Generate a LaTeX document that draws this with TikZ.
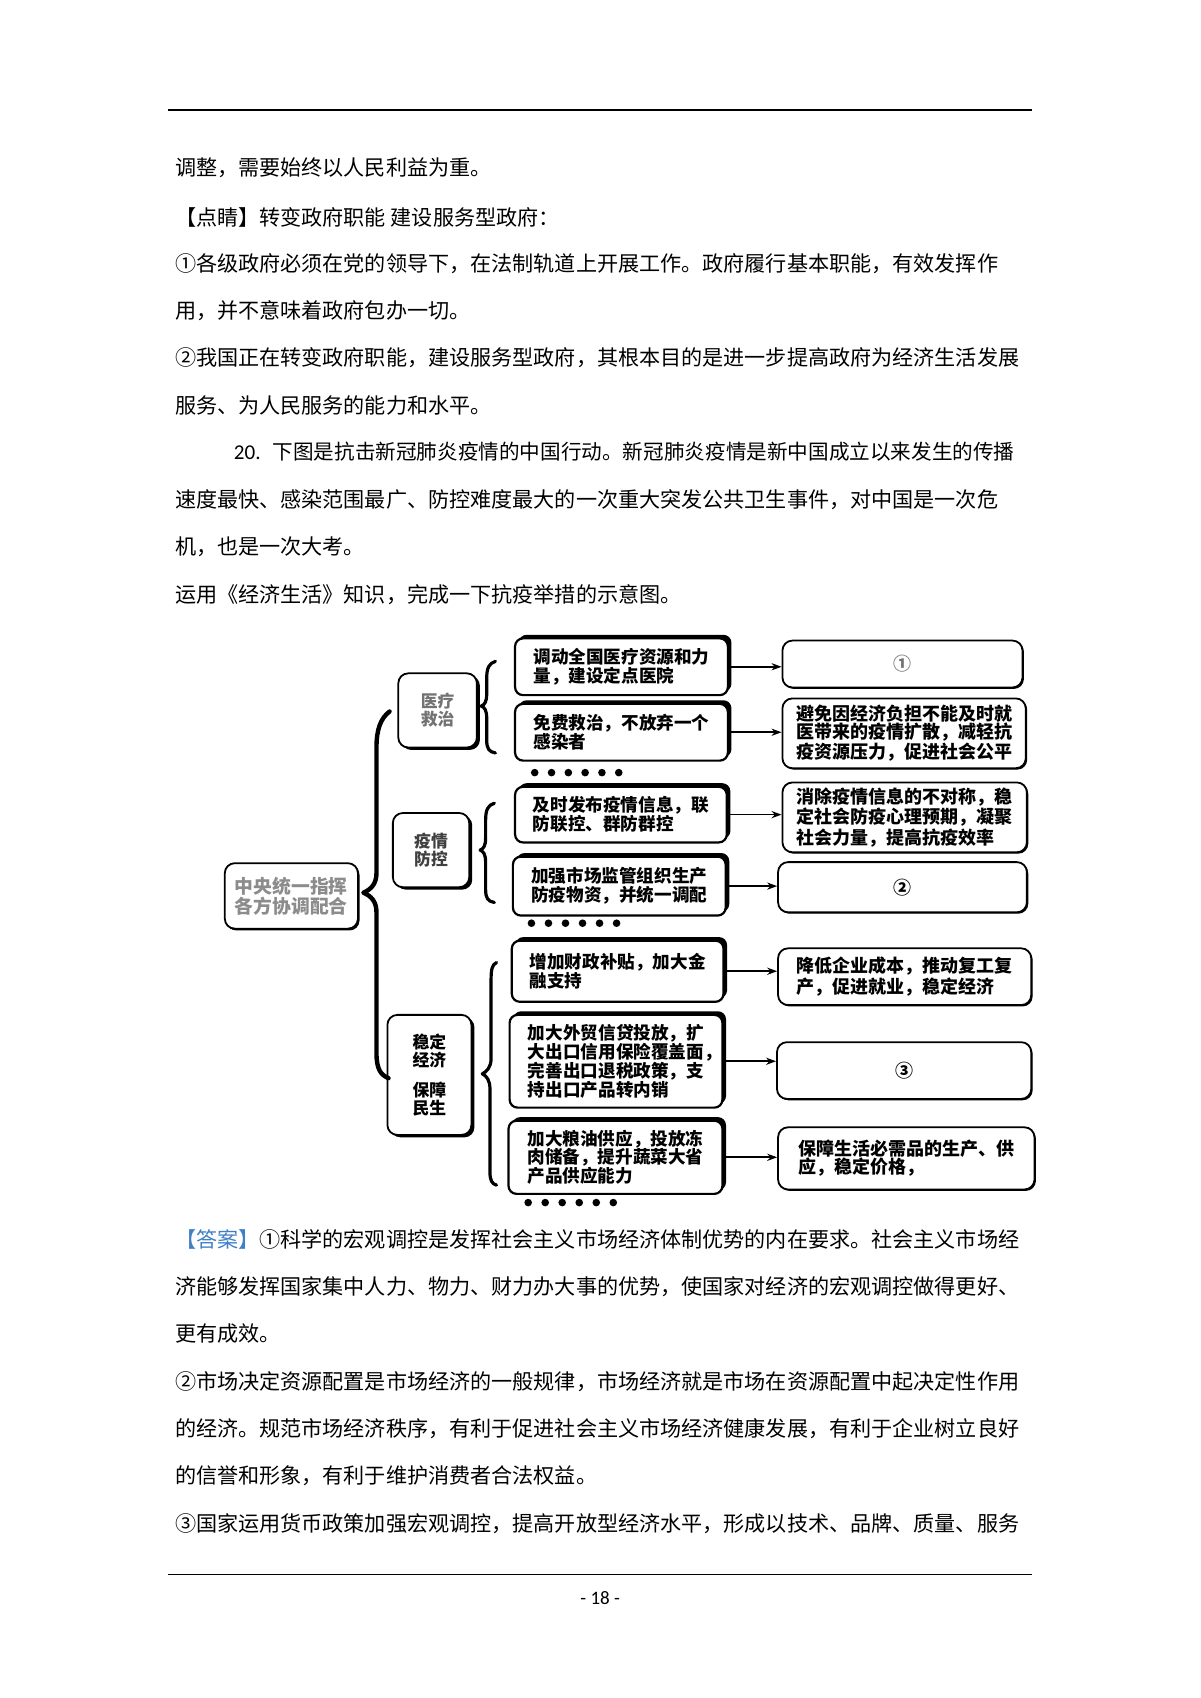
\documentclass[tikz,border=0pt]{standalone}
\usepackage{fontspec}
\setmainfont{Noto Sans CJK SC}
\newfontfamily\latinf{Carlito}
\usetikzlibrary{arrows.meta,shadows}
\newcommand\pu{0.54545pt}
\definecolor{ansblue}{HTML}{3F7FC6}
\tikzset{
  bodytext/.style={anchor=west, inner sep=0pt, font=\fontsize{10.55pt}{12pt}\selectfont},
  sz/.style 2 args={minimum width=#1*\pu, minimum height=#2*\pu},
  lbox/.style={draw=black, line width=1.1pt, fill=white, rounded corners=4pt, align=left,
    text width=88pt, inner sep=0pt, font=\fontsize{8.8pt}{9.4pt}\selectfont\bfseries,
    general shadow={fill=black, shadow xshift=1.8pt, shadow yshift=1.8pt}},
  rframe/.style={draw=black, line width=0.9pt, fill=white, rounded corners=5pt,
    inner sep=0pt, font=\fontsize{9pt}{9.1pt}\selectfont\bfseries,
    general shadow={fill=black, shadow xshift=0.7pt, shadow yshift=-0.7pt}},
  rbox/.style={rframe, align=left, text width=108pt},
  rcirc/.style={rframe, align=center},
  catbox/.style={draw=black, line width=0.9pt, fill=white, rounded corners=5pt, align=center,
    inner sep=0pt, font=\fontsize{8.4pt}{9pt}\selectfont\bfseries,
    general shadow={fill=black, shadow xshift=1.5pt, shadow yshift=-1.2pt}},
  rootbox/.style={draw=black, line width=0.9pt, fill=white, rounded corners=5pt, align=center,
    inner sep=0pt, font=\fontsize{9.4pt}{10pt}\selectfont\bfseries, text=black!45,
    general shadow={fill=black, shadow xshift=0.8pt, shadow yshift=-0.9pt}},
  arr/.style={line width=0.8pt, -{Stealth[length=5pt,width=3.6pt]}},
  bigbrace/.style={line width=2.2pt, line cap=round, line join=round},
  smallbrace/.style={line width=1.6pt, line cap=round, line join=round},
}
\begin{document}
\begin{tikzpicture}[x=0.54545pt, y=-0.54545pt]
\fill[white] (0,0) rectangle (1100,1556);
\useasboundingbox (0,0) rectangle (1100,1556);

% rules
\coordinate (rtl) at (154,101); \coordinate (rtr) at (946,101);
\draw[line width=0.9pt] (rtl) -- (rtr);
\coordinate (rbl) at (154,1442.5); \coordinate (rbr) at (946,1442.5);
\draw[line width=0.5pt] (rbl) -- (rbr);
\node[inner sep=0pt, font=\latinf\fontsize{9.5pt}{11pt}\selectfont] (pg) at (550,1464.5) {- 18 -};

% body text top
\node[bodytext] (t1) at (160,154) {调整，需要始终以人民利益为重。};
\node[bodytext] (t2) at (160,199) {【点睛】转变政府职能 建设服务型政府：};
\node[bodytext] (t3) at (160,241.5) {①各级政府必须在党的领导下，在法制轨道上开展工作。政府履行基本职能，有效发挥作};
\node[bodytext] (t4) at (160,285) {用，并不意味着政府包办一切。};
\node[bodytext] (t5) at (160,328) {②我国正在转变政府职能，建设服务型政府，其根本目的是进一步提高政府为经济生活发展};
\node[bodytext] (t6) at (160,371.5) {服务、为人民服务的能力和水平。};
\node[bodytext] (t7) at (214,414) {{\latinf 20.\hspace{6pt}}{\fontsize{10.3pt}{12pt}\selectfont 下图是抗击新冠肺炎疫情的中国行动。新冠肺炎疫情是新中国成立以来发生的传播}};
\node[bodytext] (t8) at (160,458) {速度最快、感染范围最广、防控难度最大的一次重大突发公共卫生事件，对中国是一次危};
\node[bodytext] (t9) at (160,501) {机，也是一次大考。};
\node[bodytext] (t10) at (160,544.5) {运用《经济生活》知识，完成一下抗疫举措的示意图。};

% body text bottom
\node[bodytext] (b1) at (160,1135.5) {\textcolor{ansblue}{【答案】}①科学的宏观调控是发挥社会主义市场经济体制优势的内在要求。社会主义市场经};
\node[bodytext] (b2) at (160,1179) {济能够发挥国家集中人力、物力、财力办大事的优势，使国家对经济的宏观调控做得更好、};
\node[bodytext] (b3) at (160,1222) {更有成效。};
\node[bodytext] (b4) at (160,1266) {②市场决定资源配置是市场经济的一般规律，市场经济就是市场在资源配置中起决定性作用};
\node[bodytext] (b5) at (160,1309.5) {的经济。规范市场经济秩序，有利于促进社会主义市场经济健康发展，有利于企业树立良好};
\node[bodytext] (b6) at (160,1352) {的信誉和形象，有利于维护消费者合法权益。};
\node[bodytext] (b7) at (160,1396) {③国家运用货币政策加强宏观调控，提高开放型经济水平，形成以技术、品牌、质量、服务};

% ---------- diagram ----------
% root
\node[rootbox, sz={122}{60}] (root) at (267,821) {中央统一指挥\\各方协调配合};

% category boxes
\node[catbox, sz={72}{68}, text=black!55] (cat1) at (401,651) {医疗\\救治};
\node[catbox, sz={70}{68}, text=black!75] (cat2) at (395,779) {疫情\\防控};
\node[catbox, sz={77}{110}, text=black] (cat3) at (393.5,985) {稳定\\经济\\[6pt]保障\\民生};

% big brace
\draw[bigbrace] (357,652) .. controls (349,658) and (345,668) .. (345,685) -- (345,800)
  .. controls (345,810) and (340,815) .. (333,818)
  .. controls (340,821) and (345,826) .. (345,836) -- (345,965)
  .. controls (345,980) and (349,985) .. (356,988);

% small braces
\draw[smallbrace] (454,606) .. controls (448,608) and (446,612) .. (446,622) -- (446,636)
  .. controls (446,643) and (444,646) .. (441,647)
  .. controls (444,648) and (446,651) .. (446,658) -- (446,678)
  .. controls (446,686) and (448,689) .. (454,690);
\draw[smallbrace] (453,736) .. controls (447,738) and (445,742) .. (445,752) -- (445,768)
  .. controls (445,775) and (443,778) .. (440,779)
  .. controls (443,780) and (445,783) .. (445,790) -- (445,815)
  .. controls (445,823) and (447,826) .. (453,827);
\draw[smallbrace] (455,882) .. controls (451,884) and (450,888) .. (450,898) -- (450,970)
  .. controls (450,978) and (446,982) .. (442,984)
  .. controls (446,986) and (449,990) .. (449,998) -- (449,1074)
  .. controls (449,1082) and (451,1085) .. (455,1086);

% left boxes
\node[lbox, sz={195}{52}] (a1) at (569.5,611) {调动全国医疗资源和力\\量，建设定点医院};
\node[lbox, sz={195}{52}] (a2) at (569.5,671) {免费救治，不放弃一个\\感染者};
\node[lbox, sz={194}{51}] (b1x) at (569,746.5) {及时发布疫情信息，联\\防联控、群防群控};
\node[lbox, sz={195}{54}] (b2x) at (567.5,812) {加强市场监管组织生产\\防疫物资，并统一调配};
\node[lbox, sz={194}{56}] (c1) at (566,890) {增加财政补贴，加大金\\融支持};
\node[lbox, sz={195}{85}] (c2) at (564.5,972.5) {加大外贸信贷投放，扩\\大出口信用保险覆盖面\rlap{，}\\完善出口退税政策，支\\持出口产品转内销};
\node[lbox, sz={196}{67}] (c3) at (564,1060.5) {加大粮油供应，投放冻\\肉储备，提升蔬菜大省\\产品供应能力};

% dots
\foreach \i in {0,...,5} {
  \fill (490+15.4*\i,708) circle[radius=1.9pt];
  \fill (487+15.6*\i,846) circle[radius=1.9pt];
  \fill (484+15.6*\i,1102) circle[radius=1.9pt];
}

% right boxes
\node[rcirc, sz={220}{43}, text=black!55] (r1) at (827,608.5) {①};
\node[rbox, sz={223}{64}] (r2) at (828.5,672) {避免因经济负担不能及时就\\医带来的疫情扩散，减轻抗\\疫资源压力，促进社会公平};
\node[rbox, sz={224}{64}] (r3) at (829,749) {消除疫情信息的不对称，稳\\定社会防疫心理预期，凝聚\\社会力量，提高抗疫效率};
\node[rcirc, sz={228}{46}] (r4) at (827,813) {②};
\node[rbox, sz={232}{52}] (r5) at (829,895) {降低企业成本，推动复工复\\产，促进就业，稳定经济};
\node[rcirc, sz={233}{52}] (r6) at (828.5,981) {③};
\node[rbox, sz={235}{57}] (r7) at (830.5,1061.5) {保障生活必需品的生产、供\\应，稳定价格，};

% arrows
\draw[arr] (a1.east) -- (a1.east -| r1.west);
\draw[arr] (a2.east) -- (a2.east -| r2.west);
\draw[arr] (b1x.east) -- (b1x.east -| r3.west);
\draw[arr] (b2x.east) -- (b2x.east -| r4.west);
\draw[arr] (c1.east) -- (c1.east -| r5.west);
\draw[arr] (c2.east) -- (c2.east -| r6.west);
\draw[arr] (c3.east) -- (c3.east -| r7.west);
\end{tikzpicture}
\end{document}
